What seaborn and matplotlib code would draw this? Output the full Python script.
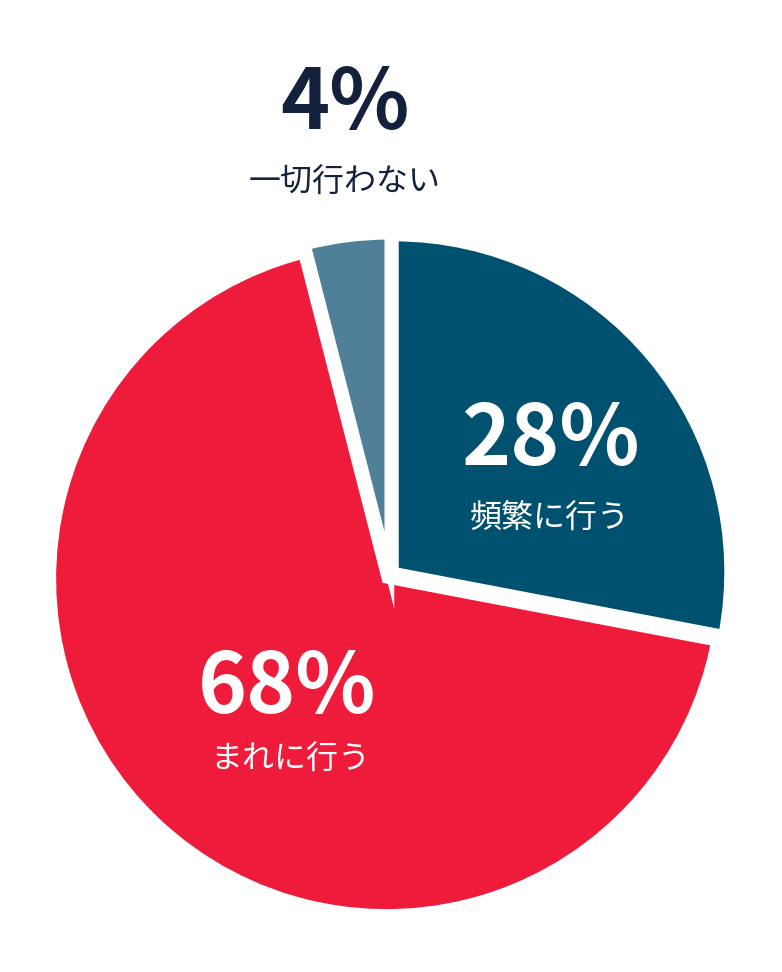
import matplotlib
matplotlib.use("Agg")
import matplotlib.pyplot as plt
import seaborn as sns

labels = ["頻繁に行う", "まれに行う", "一切行わない"]
values = [28, 68, 4]
colors = ["#00506f", "#ee1c3a", "#4f8098"]

sns.set_theme(style="white")
plt.rcParams['font.family'] = ['Noto Sans CJK JP', 'DejaVu Sans']

W, H = 782, 972
fig = plt.figure(figsize=(W/100, H/100), dpi=100)
fig.patch.set_facecolor("white")
cx, cy, r = 390, 575, 342
ax = fig.add_axes([(cx-r)/W, (H-cy-r)/H, 2*r/W, 2*r/H])
ax.pie(values, colors=colors, startangle=90, counterclock=False,
       explode=[0.015, 0.015, 0.015],
       wedgeprops=dict(edgecolor="white", linewidth=7), radius=1.0)
ax.set_xlim(-1.02, 1.02); ax.set_ylim(-1.02, 1.02); ax.set_aspect("equal"); ax.axis("off")

def t(x, y, s, size, color, bold):
    fig.text(x/W, 1-y/H, s, ha="center", va="center", fontsize=size,
             color=color, fontweight="bold" if bold else "normal")

t(345, 105, f"{values[2]}%", 60, "#14213d", True)
t(345, 183, labels[2], 23, "#14213d", False)
t(550, 440, f"{values[0]}%", 60, "white", True)
t(550, 518, labels[0], 23, "white", False)
t(287, 688, f"{values[1]}%", 60, "white", True)
t(290, 760, labels[1], 23, "white", False)

fig.savefig("out.png", dpi=100, facecolor="white")
